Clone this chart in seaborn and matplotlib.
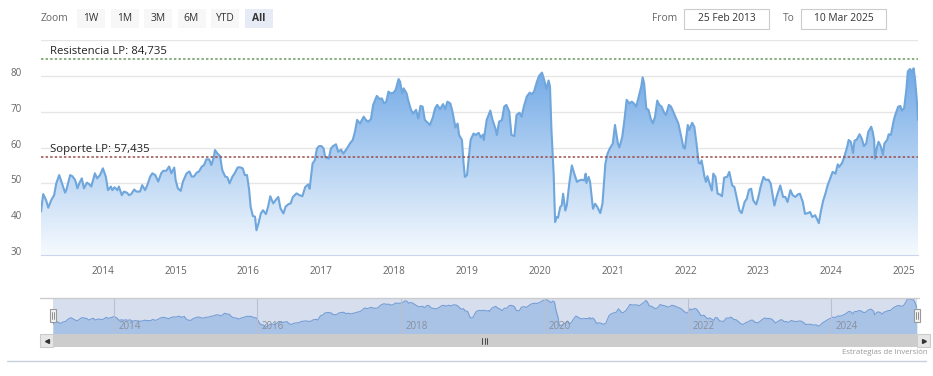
import numpy as np
import pandas as pd
import seaborn as sns
import matplotlib
matplotlib.use('Agg')
import matplotlib.pyplot as plt
import matplotlib.dates as mdates
from matplotlib.patches import Rectangle
from matplotlib.lines import Line2D
from matplotlib.transforms import ScaledTranslation

# fechas como año decimal
anios_dec = [
    2013.15, 2013.18, 2013.22, 2013.25, 2013.29, 2013.33, 2013.36, 2013.40, 2013.43, 2013.48,
    2013.50, 2013.55, 2013.58, 2013.62, 2013.65, 2013.68, 2013.71, 2013.74, 2013.78, 2013.81,
    2013.84, 2013.89, 2013.92, 2013.96, 2014.00, 2014.04, 2014.07, 2014.11, 2014.13, 2014.16,
    2014.20, 2014.22, 2014.26, 2014.29, 2014.33, 2014.36, 2014.39, 2014.43, 2014.46, 2014.51,
    2014.54, 2014.58, 2014.61, 2014.65, 2014.68, 2014.72, 2014.76, 2014.80, 2014.83, 2014.87,
    2014.91, 2014.94, 2014.98, 2015.00, 2015.03, 2015.07, 2015.10, 2015.15, 2015.19, 2015.22,
    2015.25, 2015.29, 2015.32, 2015.36, 2015.39, 2015.42, 2015.46, 2015.49, 2015.52, 2015.54,
    2015.57, 2015.61, 2015.64, 2015.68, 2015.71, 2015.74, 2015.78, 2015.81, 2015.85, 2015.88,
    2015.92, 2015.95, 2015.98, 2016.01, 2016.03, 2016.06, 2016.09, 2016.11, 2016.14, 2016.17,
    2016.20, 2016.24, 2016.27, 2016.30, 2016.34, 2016.38, 2016.41, 2016.44, 2016.48, 2016.51,
    2016.55, 2016.58, 2016.61, 2016.66, 2016.70,
    2016.74, 2016.78, 2016.82, 2016.84, 2016.88, 2016.91, 2016.94, 2016.97, 2017.00, 2017.03,
    2017.05, 2017.10, 2017.13, 2017.16, 2017.20, 2017.23, 2017.27, 2017.30, 2017.35, 2017.39,
    2017.43, 2017.46, 2017.49, 2017.53, 2017.58, 2017.61, 2017.64, 2017.68, 2017.71, 2017.76,
    2017.80, 2017.83, 2017.86, 2017.89, 2017.92, 2017.95, 2017.99, 2018.02, 2018.06, 2018.08,
    2018.11, 2018.13, 2018.17, 2018.19, 2018.23, 2018.26, 2018.30, 2018.33, 2018.36, 2018.39,
    2018.42, 2018.46, 2018.49, 2018.53, 2018.56, 2018.59, 2018.63, 2018.67, 2018.70, 2018.73,
    2018.77, 2018.80, 2018.84, 2018.87, 2018.89, 2018.93, 2018.95, 2018.97, 2019.00, 2019.02,
    2019.05, 2019.09, 2019.12, 2019.16, 2019.19, 2019.22, 2019.23, 2019.27, 2019.32, 2019.35,
    2019.39, 2019.41, 2019.44, 2019.48, 2019.51, 2019.54, 2019.58, 2019.61, 2019.65, 2019.68,
    2019.72, 2019.75, 2019.78, 2019.82, 2019.86, 2019.89, 2019.92, 2019.96, 2019.99, 2020.03,
    2020.06, 2020.09, 2020.12, 2020.14, 2020.16, 2020.19, 2020.21, 2020.23, 2020.25, 2020.28,
    2020.30, 2020.32, 2020.35, 2020.37, 2020.41, 2020.44, 2020.47, 2020.51, 2020.54, 2020.58,
    2020.61, 2020.63, 2020.64, 2020.67, 2020.69, 2020.73, 2020.76, 2020.79, 2020.83,
    2020.86, 2020.90, 2020.93, 2020.96, 2021.00, 2021.03, 2021.07, 2021.09, 2021.13, 2021.16,
    2021.19, 2021.23, 2021.26, 2021.29, 2021.32, 2021.35, 2021.39, 2021.41, 2021.43, 2021.46,
    2021.49, 2021.52, 2021.55, 2021.58, 2021.61, 2021.64, 2021.67, 2021.71, 2021.73, 2021.77,
    2021.80, 2021.83, 2021.87, 2021.90, 2021.94, 2021.97, 2021.99, 2022.03, 2022.05, 2022.09,
    2022.12, 2022.15, 2022.18, 2022.20, 2022.22, 2022.26, 2022.28, 2022.30, 2022.33, 2022.36,
    2022.38, 2022.41, 2022.44, 2022.47, 2022.50, 2022.53, 2022.57, 2022.60, 2022.64, 2022.67,
    2022.70, 2022.74, 2022.77, 2022.81, 2022.84, 2022.87, 2022.90, 2022.93, 2022.97, 2023.00,
    2023.03, 2023.07, 2023.10, 2023.14, 2023.17, 2023.20, 2023.22, 2023.25, 2023.30, 2023.34,
    2023.37, 2023.40, 2023.44, 2023.47, 2023.51, 2023.54, 2023.57, 2023.61, 2023.64, 2023.68,
    2023.71, 2023.74, 2023.78, 2023.83, 2023.86, 2023.89, 2023.92, 2023.95, 2023.99, 2024.02,
    2024.06, 2024.09, 2024.11, 2024.15, 2024.18, 2024.22, 2024.24, 2024.27, 2024.30, 2024.32,
    2024.35, 2024.39, 2024.42, 2024.45, 2024.48, 2024.51, 2024.55, 2024.57, 2024.59, 2024.60,
    2024.63, 2024.65, 2024.68, 2024.71, 2024.73, 2024.77, 2024.79, 2024.82, 2024.86, 2024.88,
    2024.92, 2024.95, 2024.97, 2025.00, 2025.03, 2025.05, 2025.08, 2025.11, 2025.13, 2025.15,
    2025.17, 2025.19,
]
valores = [
    42.1, 47.0, 45.3, 43.2, 45.3, 46.7, 50.0, 52.3, 50.5, 47.4,
    48.3, 52.3, 52.0, 50.9, 48.6, 50.2, 51.4, 48.6, 50.2, 49.8,
    49.1, 52.8, 51.4, 52.3, 54.2, 51.9, 48.1, 49.1, 48.1, 48.9,
    48.1, 49.1, 46.7, 47.7, 47.4, 46.7, 47.0, 48.3, 47.7, 47.7,
    49.5, 48.1, 49.5, 51.9, 52.8, 52.3, 50.5, 52.8, 53.5, 53.5,
    54.7, 52.8, 54.4, 50.9, 48.6, 47.9, 50.5, 52.8, 53.3, 51.9,
    51.9, 53.0, 53.3, 54.7, 55.1, 56.7, 56.7, 55.1, 57.0, 59.3,
    58.4, 57.6, 53.7, 51.9, 51.7, 50.0, 51.9, 52.8, 54.4, 54.5,
    54.2, 52.3, 52.3, 48.1, 43.5, 40.9, 40.7, 36.9, 39.0, 41.6,
    42.5, 41.4, 43.5, 46.4, 44.4, 45.5, 46.2, 43.0, 41.6, 43.5,
    44.2, 44.4, 46.2, 47.2, 46.7,
    46.4, 49.0, 49.7, 48.5, 55.5, 56.4, 59.7, 60.4, 60.4, 59.7,
    57.4, 56.9, 59.7, 60.4, 60.9, 58.8, 59.4, 58.3, 59.7, 61.1,
    62.1, 64.4, 67.7, 66.7, 68.6, 67.7, 67.2, 67.9, 71.9, 74.4,
    73.5, 73.7, 72.3, 72.8, 75.6, 75.1, 75.3, 76.1, 79.1, 78.4,
    75.1, 76.5, 75.1, 73.3, 70.5, 69.5, 70.5, 68.1, 71.6, 71.4,
    67.7, 66.9, 66.3, 68.4, 70.9, 71.9, 70.7, 72.1, 70.7, 72.8,
    72.3, 70.0, 65.6, 66.7, 63.5, 62.1, 56.0, 51.8, 52.3, 56.4,
    62.2, 63.9, 63.5, 64.1, 62.8, 63.6, 62.1, 67.7, 70.3, 67.7,
    65.3, 63.5, 67.2, 67.7, 71.4, 71.9, 70.0, 63.5, 63.2, 69.1,
    69.7, 68.6, 71.4, 74.2, 75.3, 74.9, 75.6, 78.4, 80.0, 80.9,
    78.9, 76.3, 78.7, 77.0, 64.9, 52.7, 39.2, 40.6, 40.4, 43.4,
    43.8, 47.1, 42.4, 43.8, 50.8, 55.0, 52.9, 50.4, 50.8, 51.0,
    50.8, 52.7, 50.1, 51.8, 50.4, 42.9, 44.3, 43.4, 41.7,
    44.3, 55.5, 58.3, 59.7, 61.1, 66.3, 61.1, 60.0, 63.0, 67.7,
    73.3, 72.3, 72.8, 72.3, 71.4, 73.7, 77.0, 79.6, 77.9, 70.9,
    70.5, 68.1, 66.7, 68.6, 73.1, 71.9, 71.4, 69.5, 69.1, 71.9,
    71.4, 70.0, 68.1, 66.7, 63.0, 60.0, 59.7, 66.3, 64.9, 66.9,
    65.8, 61.1, 55.7, 55.5, 56.4, 51.8, 50.4, 52.0, 49.9, 48.0,
    52.7, 51.8, 47.1, 46.9, 46.4, 51.6, 51.8, 53.2, 49.4, 49.0,
    46.2, 42.4, 41.7, 44.8, 45.7, 48.2, 48.5, 45.2, 44.1, 46.2,
    49.0, 51.8, 51.0, 51.0, 49.9, 46.2, 43.8, 46.2, 49.4, 46.2,
    46.2, 44.8, 48.1, 46.7, 46.2, 46.9, 47.1, 44.8, 41.5, 41.7,
    42.0, 40.6, 41.1, 38.9, 42.4, 45.2, 47.1, 49.4, 51.6, 53.2,
    52.7, 55.3, 54.6, 55.7, 57.4, 60.2, 62.1, 61.6, 58.5, 61.9,
    62.2, 63.7, 62.5, 60.4, 61.1, 64.4, 65.8, 64.4, 62.1, 56.9,
    60.2, 61.6, 60.4, 57.9, 61.1, 62.2, 63.7, 63.5, 67.7, 69.1,
    71.4, 71.6, 70.3, 71.0, 76.1, 81.2, 81.9, 81.2, 82.1, 78.9,
    74.2, 67.7,
]

resistencia = 84.735
soporte = 57.435
texto_resistencia = 'Resistencia LP: 84,735'
texto_soporte = 'Soporte LP: 57,435'
ticks_y = [30, 40, 50, 60, 70, 80, 90]
etiquetas_y = ['30', '40', '50', '60', '70', '80', '']
anios_eje = list(range(2014, 2026))
anios_nav = [2014, 2016, 2018, 2020, 2022, 2024]
botones = ['1W', '1M', '3M', '6M', 'YTD', 'All']
desde = '25 Feb 2013'
hasta = '10 Mar 2025'
credito = 'Estrategias de Inversión'


def a_fecha(a):
    base = int(a)
    return pd.Timestamp(base, 1, 1) + pd.Timedelta(days=(a - base) * 365.25)


df = pd.DataFrame({'fecha': [a_fecha(a) for a in anios_dec], 'valor': valores})

sns.set_style('white')
plt.rcParams['font.family'] = ['Open Sans', 'DejaVu Sans']

W, H = 933, 376
fig = plt.figure(figsize=(W / 100, H / 100), dpi=100)


def fx(px):
    return px / W


def fy(py):
    return 1 - py / H


# ---- grafico principal ----
ax = fig.add_axes([fx(41), fy(255), (918 - 41) / W, (255 - 40) / H])
x0 = mdates.date2num(df['fecha'].iloc[0])
x1 = mdates.date2num(df['fecha'].iloc[-1])

poly = ax.fill_between(df['fecha'], df['valor'], 30, color='none', lw=0)
arriba = np.array([112, 168, 230]) / 255
abajo = np.array([246, 250, 254]) / 255
t = np.linspace(0, 1, 256)[:, None]
grad = (abajo + (arriba - abajo) * t)[:, None, :]
im = ax.imshow(grad, extent=[x0, x1, 30, 83], origin='lower', aspect='auto', zorder=1)
im.set_clip_path(poly.get_paths()[0], transform=ax.transData)

sns.lineplot(data=df, x='fecha', y='valor', ax=ax, color='#6fa6dc', lw=1.5, zorder=3)

ax.axhline(resistencia, color='#6b9a5e', lw=1.1, ls=(0, (1.6, 1.4)), zorder=4)
ax.axhline(soporte, color='#9a4d4d', lw=1.1, ls=(0, (1.6, 1.4)), zorder=4)
ax.annotate(texto_resistencia, xy=(9 / 877, resistencia), xycoords=('axes fraction', 'data'),
            xytext=(0, 1.5), textcoords='offset points', va='bottom', ha='left',
            fontsize=8.2, color='#222222', zorder=5)
ax.annotate(texto_soporte, xy=(9 / 877, soporte), xycoords=('axes fraction', 'data'),
            xytext=(0, 1.2), textcoords='offset points', va='bottom', ha='left',
            fontsize=8.2, color='#222222', zorder=5)

ax.set_xlim(x0, x1)
ax.set_ylim(30, 90)
ax.set_yticks(ticks_y)
ax.set_yticklabels(etiquetas_y)
ax.set_xticks([pd.Timestamp(a, 1, 1) for a in anios_eje])
ax.set_xticklabels([str(a) for a in anios_eje])
ax.grid(axis='y', color='#e6e6e6', lw=1)
ax.grid(axis='x', visible=False)
ax.set_axisbelow(True)
ax.set_xlabel('')
ax.set_ylabel('')
for lado in ['top', 'right', 'left']:
    ax.spines[lado].set_visible(False)
ax.spines['bottom'].set_color('#ccd6eb')
ax.tick_params(axis='y', length=0, pad=14, labelsize=7, labelcolor='#666666')
ax.tick_params(axis='x', length=5, width=1, color='#ccd6eb', pad=3, labelsize=7.2,
               labelcolor='#666666')
desplaza = ScaledTranslation(0, 4 / 100, fig.dpi_scale_trans)
for lbl in ax.get_yticklabels():
    lbl.set_transform(lbl.get_transform() + desplaza)

# ---- navegador ----
nav = fig.add_axes([fx(53), fy(334.3), (917 - 53) / W, (334.3 - 297.7) / H])
nav.fill_between(df['fecha'], df['valor'], 20, color='#8fbbea', alpha=0.55, lw=0)
sns.lineplot(data=df, x='fecha', y='valor', ax=nav, color='#7aa7dc', lw=0.8)
nav.axvspan(x0, x1, color=(0.40, 0.52, 0.76), alpha=0.26, lw=0, zorder=4)
for a in anios_nav:
    nav.axvline(pd.Timestamp(a, 1, 1), color='#b8c0d2', lw=0.8, zorder=5)
    nav.annotate(str(a), xy=(pd.Timestamp(a, 1, 1), 0), xycoords=('data', 'axes fraction'),
                 xytext=(3, 2), textcoords='offset points', fontsize=7, color='#8a8f99',
                 ha='left', va='bottom', zorder=6)
nav.set_xlim(x0, x1)
nav.set_ylim(26, 84)
nav.set_xticks([])
nav.set_yticks([])
nav.set_xlabel('')
nav.set_ylabel('')
for lado in nav.spines:
    nav.spines[lado].set_visible(False)

gris = '#cccccc'
fig.add_artist(Line2D([fx(40), fx(919)], [fy(297.7)] * 2, color=gris, lw=1))
# manijas
for hx in [50, 914]:
    fig.add_artist(Rectangle((fx(hx), fy(322)), 6 / W, 13 / H, facecolor='#f2f2f2',
                             edgecolor='#999999', lw=0.8, zorder=8))
    for lx in [hx + 2.3, hx + 3.7]:
        fig.add_artist(Line2D([fx(lx)] * 2, [fy(319), fy(312)], color='#666666', lw=0.5, zorder=9))

# barra de desplazamiento
fig.add_artist(Rectangle((fx(53), fy(346.7)), (917 - 53) / W, 12.4 / H, facecolor='#cccccc',
                         edgecolor='none'))
for bx, mk in [(40, '<'), (917, '>')]:
    fig.add_artist(Rectangle((fx(bx), fy(346.7)), 13 / W, 12.4 / H, facecolor='#e6e6e6',
                             edgecolor='#cccccc', lw=0.8))
    fig.add_artist(Line2D([fx(bx + 6.5)], [fy(340.5)], marker=mk, ms=2.8, color='#333333', lw=0))
for gx in [482, 484.5, 487]:
    fig.add_artist(Line2D([fx(gx)] * 2, [fy(343.5), fy(337.5)], color='#333333', lw=0.6))

fig.text(fx(928), fy(352), credito, ha='right', va='center', fontsize=5.6, color='#999999')
fig.add_artist(Line2D([fx(7), fx(926)], [fy(361)] * 2, color='#c8d0dc', lw=1))

# ---- selector de rango ----
fig.text(fx(41), fy(18.5), 'Zoom', ha='left', va='center', fontsize=7.4, color='#666666')
for i, b in enumerate(botones):
    bx = 77 + i * 33.5
    activo = b == 'All'
    fig.add_artist(Rectangle((fx(bx), fy(28)), 28 / W, 19 / H,
                             facecolor='#e6ebf5' if activo else '#f7f7f7', edgecolor='none'))
    fig.text(fx(bx + 14), fy(18.5), b, ha='center', va='center', fontsize=7.4,
             color='#333333', fontweight='bold' if activo else 'normal')

fig.text(fx(677), fy(18.5), 'From', ha='right', va='center', fontsize=7.4, color='#666666')
fig.add_artist(Rectangle((fx(684), fy(29)), 85 / W, 20 / H, facecolor='white',
                         edgecolor='#cccccc', lw=0.8))
fig.text(fx(726.5), fy(18.5), desde, ha='center', va='center', fontsize=7.4, color='#333333')
fig.text(fx(795), fy(18.5), 'To', ha='right', va='center', fontsize=7.4, color='#666666')
fig.add_artist(Rectangle((fx(801), fy(29)), 85 / W, 20 / H, facecolor='white',
                         edgecolor='#cccccc', lw=0.8))
fig.text(fx(843.5), fy(18.5), hasta, ha='center', va='center', fontsize=7.4, color='#333333')

fig.savefig('out.png', dpi=100)
